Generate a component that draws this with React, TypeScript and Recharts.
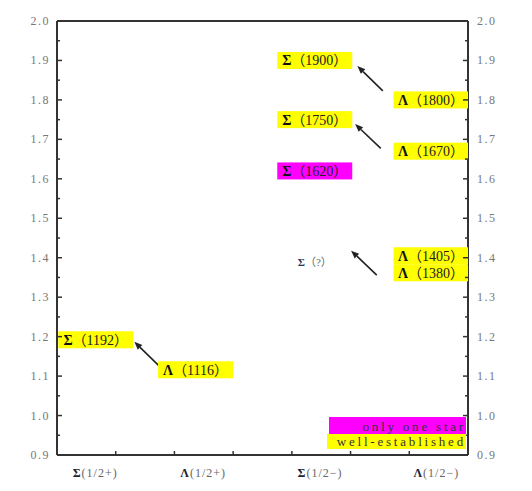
import { Legend, ReferenceLine, Scatter, ScatterChart, XAxis, YAxis } from "recharts";

// 横轴分类(标签位置为横轴单位,0..7 共 7 格)
const categories = ["Σ(1/2+)", "Λ(1/2+)", "Σ(1/2−)", "Λ(1/2−)"];
const categoryTickX = [0.65, 2.49, 4.48, 6.46];
const categoryStateX = [0.66, 2.36, 4.39, 6.37];
const xTicks = [1, 2, 3, 4, 5, 6];

// 纵轴(GeV)
const yMajorTicks = [0.9, 1.0, 1.1, 1.2, 1.3, 1.4, 1.5, 1.6, 1.7, 1.8, 1.9, 2.0];
const yMinorTicks = [0.95, 1.05, 1.15, 1.25, 1.35, 1.45, 1.55, 1.65, 1.75, 1.85, 1.95];

// 各共振态
const stateNames = ["Σ（1192）", "Λ（1116）", "Σ（1900）", "Σ（1750）", "Σ（1620）", "Σ（?）", "Λ（1800）", "Λ（1670）", "Λ（1405）", "Λ（1380）"];
const stateCategory = [0, 1, 2, 2, 2, 2, 3, 3, 3, 3];
const stateMass = [1.192, 1.116, 1.9, 1.75, 1.62, 1.39, 1.8, 1.67, 1.405, 1.38];
const stateStatus = ["well", "well", "well", "well", "one", "unknown", "well", "well", "well", "well"];

// 箭头:尾 -> 头(横轴单位, GeV)
const arrowTail = [[1.738, 1.126], [5.549, 1.823], [5.514, 1.677], [5.446, 1.356]];
const arrowHead = [[1.317, 1.187], [5.116, 1.886], [5.077, 1.739], [5.009, 1.418]];

const legendItems = [
  { label: "only one star", color: "#ff00ff" },
  { label: "well-established", color: "#ffff00" },
];

const YELLOW = "#ffff00";
const MAGENTA = "#ff00ff";
const AXIS = "#333";
const SERIF = "'Liberation Serif', 'Noto Sans CJK SC', serif";
const LABEL_H = 17;
const PX_PER_GEV = 394.5; // 仅用于同列标签防重叠

// 同一列中标签重叠时向下错开
const states = stateNames.map((name, i) => ({
  name,
  cat: stateCategory[i],
  mass: stateMass[i],
  status: stateStatus[i],
  x: categoryStateX[stateCategory[i]],
  y: stateMass[i],
}));
for (let c = 0; c < categories.length; c++) {
  const col = states.filter((s) => s.cat === c).sort((a, b) => b.mass - a.mass);
  for (let k = 1; k < col.length; k++) {
    const limit = col[k - 1].y - LABEL_H / PX_PER_GEV;
    if (col[k].y > limit) col[k].y = limit;
  }
}

const isMajor = (v: number) => Math.round(v * 100) % 10 === 0;

function LeftTick({ x, y, payload }: any) {
  const v = payload.value as number;
  const major = isMajor(v);
  return (
    <g>
      <line x1={x} x2={x + (major ? 5 : 3)} y1={y} y2={y} stroke={AXIS} strokeWidth={1.5} />
      {major && (
        <text x={x - 7} y={y} textAnchor="end" dominantBaseline="central" fontSize={12} fill="#777" fontFamily={SERIF} letterSpacing={1.5}>
          {v.toFixed(1)}
        </text>
      )}
    </g>
  );
}

function RightTick({ x, y, payload }: any) {
  const v = payload.value as number;
  const major = isMajor(v);
  return (
    <g>
      <line x1={x} x2={x - (major ? 5 : 3)} y1={y} y2={y} stroke={AXIS} strokeWidth={1.5} />
      {major && (
        <text x={x + 9} y={y} textAnchor="start" dominantBaseline="central" fontSize={12} fill="#777" fontFamily={SERIF} letterSpacing={1.5}>
          {v.toFixed(1)}
        </text>
      )}
    </g>
  );
}

function BottomTick({ x, y, payload }: any) {
  const v = payload.value as number;
  const idx = categoryTickX.indexOf(v);
  if (idx < 0) {
    return <line x1={x} x2={x} y1={y} y2={y - 4} stroke={AXIS} strokeWidth={1.5} />;
  }
  const label = categories[idx];
  return (
    <text x={x} y={y + 18} textAnchor="middle" dominantBaseline="central" fontSize={12} fill="#666" fontFamily={SERIF} letterSpacing={1}>
      <tspan fontWeight="bold" fill="#223">{label[0]}</tspan>
      <tspan>{label.slice(1)}</tspan>
    </text>
  );
}

function StateLabel(props: any) {
  const { cx, cy, payload } = props;
  if (cx == null || cy == null) return null;
  const fill = payload.status === "one" ? MAGENTA : payload.status === "well" ? YELLOW : null;
  const unknown = fill === null;
  return (
    <g>
      {fill && <rect x={cx - 37.5} y={cy - LABEL_H / 2} width={75} height={LABEL_H} fill={fill} />}
      <text
        x={cx}
        y={cy}
        textAnchor="middle"
        dominantBaseline="central"
        fontSize={unknown ? 11 : 14}
        fill={unknown ? "#666" : "#222"}
        fontFamily={SERIF}
      >
        <tspan fontWeight="bold" fill={unknown ? "#335" : "#111"}>{payload.name[0]}</tspan>
        <tspan>{payload.name.slice(1)}</tspan>
      </text>
    </g>
  );
}

function ArrowShape(props: any) {
  const { x1, y1, x2, y2 } = props;
  if ([x1, y1, x2, y2].some((v) => typeof v !== "number")) return null;
  const ang = Math.atan2(y2 - y1, x2 - x1);
  const len = 8;
  const half = 3.2;
  const bx = x2 - len * Math.cos(ang);
  const by = y2 - len * Math.sin(ang);
  const px = -Math.sin(ang) * half;
  const py = Math.cos(ang) * half;
  return (
    <g>
      <line x1={x1} y1={y1} x2={bx} y2={by} stroke="#222" strokeWidth={1.6} />
      <polygon points={`${x2},${y2} ${bx + px},${by + py} ${bx - px},${by - py}`} fill="#222" />
    </g>
  );
}

function LegendBox() {
  return (
    <div style={{ width: 139, fontFamily: SERIF, fontSize: 13, lineHeight: "16px" }}>
      {legendItems.map((item, i) => (
        <div
          key={item.label}
          style={{
            background: item.color,
            textAlign: "right",
            color: "#333",
            letterSpacing: 2.8,
            height: i === 0 ? 17 : 15,
            lineHeight: i === 0 ? "19px" : "15px",
            marginLeft: i === 0 ? 2 : 0,
            whiteSpace: "nowrap",
          }}
        >
          {item.label}
        </div>
      ))}
    </div>
  );
}

export default function App() {
  return (
    <div style={{ position: "absolute", left: 0, top: 0, background: "#fff" }}>
      <ScatterChart width={532} height={491} margin={{ top: 21, right: 24, bottom: 0, left: 0 }}>
        <XAxis
          type="number"
          dataKey="x"
          domain={[0, 7]}
          ticks={[...xTicks, ...categoryTickX].sort((a, b) => a - b)}
          interval={0}
          height={36}
          tickSize={0}
          tickMargin={0}
          tickLine={false}
          axisLine={{ stroke: AXIS, strokeWidth: 2 }}
          tick={<BottomTick />}
          allowDataOverflow
        />
        <YAxis
          yAxisId="left"
          type="number"
          dataKey="y"
          domain={[0.9, 2.0]}
          ticks={[...yMajorTicks, ...yMinorTicks].sort((a, b) => a - b)}
          interval={0}
          width={57}
          tickSize={0}
          tickMargin={0}
          tickLine={false}
          axisLine={{ stroke: AXIS, strokeWidth: 2 }}
          tick={<LeftTick />}
          allowDataOverflow
        />
        <YAxis
          yAxisId="right"
          orientation="right"
          type="number"
          domain={[0.9, 2.0]}
          ticks={[...yMajorTicks, ...yMinorTicks].sort((a, b) => a - b)}
          interval={0}
          width={40}
          tickSize={0}
          tickMargin={0}
          tickLine={false}
          axisLine={{ stroke: AXIS, strokeWidth: 2 }}
          tick={<RightTick />}
          allowDataOverflow
        />
        <ReferenceLine yAxisId="left" y={2.0} stroke={AXIS} strokeWidth={2} ifOverflow="visible" />
        {arrowTail.map((t, i) => (
          <ReferenceLine
            key={i}
            yAxisId="left"
            ifOverflow="visible"
            segment={[
              { x: t[0], y: t[1] },
              { x: arrowHead[i][0], y: arrowHead[i][1] },
            ]}
            shape={<ArrowShape />}
          />
        ))}
        <Scatter yAxisId="left" data={states} shape={<StateLabel />} isAnimationActive={false} />
        <Legend
          layout="vertical"
          align="center"
          verticalAlign="middle"
          content={<LegendBox />}
          wrapperStyle={{ position: "absolute", left: 327, top: 417, width: 140 }}
        />
      </ScatterChart>
    </div>
  );
}
